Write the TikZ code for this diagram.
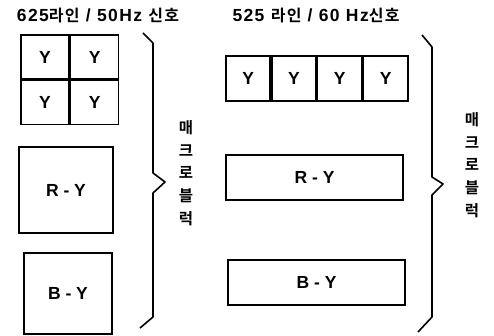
\documentclass[tikz,border=0pt]{standalone}
\usepackage{fontspec}
\setmainfont{Liberation Sans}
\newfontfamily\kr{Noto Sans CJK KR Bold}
\newfontfamily\ttllat{Liberation Sans Bold}[LetterSpace=8]
\newfontfamily\ttlkr{Noto Sans CJK KR Bold}[LetterSpace=8]
\usetikzlibrary{calc,positioning}

\tikzset{
  blk/.style={draw, line width=1.6pt, inner sep=0pt, font=\bfseries\fontsize{17.5}{20}\selectfont},
  ycell/.style={blk, minimum width=48pt, minimum height=44pt},
  ycellw/.style={blk, minimum width=44.25pt, minimum height=45pt},
  brace/.style={line width=1.6pt, line join=round},
  title/.style={font=\ttllat\fontsize{17.5}{20}\selectfont},
  vtext/.style={align=center, inner sep=0pt, font=\kr\fontsize{15.5}{22.8}\selectfont}
}
\newcommand{\hg}[1]{{\ttlkr\fontsize{16}{20}\selectfont #1}}

\begin{document}
\begin{tikzpicture}[x=1pt,y=-1pt]
\useasboundingbox (0,0) rectangle (494,336);

% 625 lines / 50 Hz
\node[title] (lt) at (98,16) {625\hg{라인} / 50Hz \hg{신호}};

\node[ycell] (y11) at (45,57) {Y};
\node[ycell, right=0pt of y11] (y12) {Y};
\node[ycell, below=0pt of y11] (y21) {Y};
\node[ycell, right=0pt of y21] (y22) {Y};

\node[blk, minimum width=94pt, minimum height=86pt] (lry) at (66,190) {R - Y};
\node[blk, minimum width=88pt, minimum height=81pt] (lby) at (68,293.5) {B - Y};

\coordinate (la) at (143,33);
\coordinate (lb) at (153,43);
\coordinate (lc) at (153,173);
\coordinate (ltip) at (165,182);
\coordinate (ld) at (153,193);
\coordinate (le) at (153,317);
\coordinate (lf) at (140,328);
\draw[brace] (la) -- (lb) -- (lc) -- (ltip) -- (ld) -- (le) -- (lf);

\node[vtext] (lm) at ($(ltip) + (21,-9)$) {매\\크\\로\\블\\럭};

% 525 lines / 60 Hz
\node[title] (rt) at (316,16) {525 \hg{라인} / 60 Hz\hg{신호}};

\node[ycellw] (r1) at (248.1,78.5) {Y};
\node[ycellw, right=0pt of r1] (r2) {Y};
\node[ycellw, right=0pt of r2] (r3) {Y};
\node[ycellw, right=0pt of r3] (r4) {Y};

\node[blk, minimum width=177pt, minimum height=45pt] (rry) at (314.5,177.5) {R - Y};
\node[blk, minimum width=177pt, minimum height=45pt] (rby) at (316.5,282.5) {B - Y};

\coordinate (ra) at (422,35);
\coordinate (rb) at (432,47);
\coordinate (rc) at (432,177);
\coordinate (rtip) at (443,184);
\coordinate (rd) at (432,195);
\coordinate (re) at (432,317);
\coordinate (rf) at (418,332);
\draw[brace] (ra) -- (rb) -- (rc) -- (rtip) -- (rd) -- (re) -- (rf);

\node[vtext] (rm) at ($(rtip) + (29,-19)$) {매\\크\\로\\블\\럭};

\end{tikzpicture}
\end{document}
